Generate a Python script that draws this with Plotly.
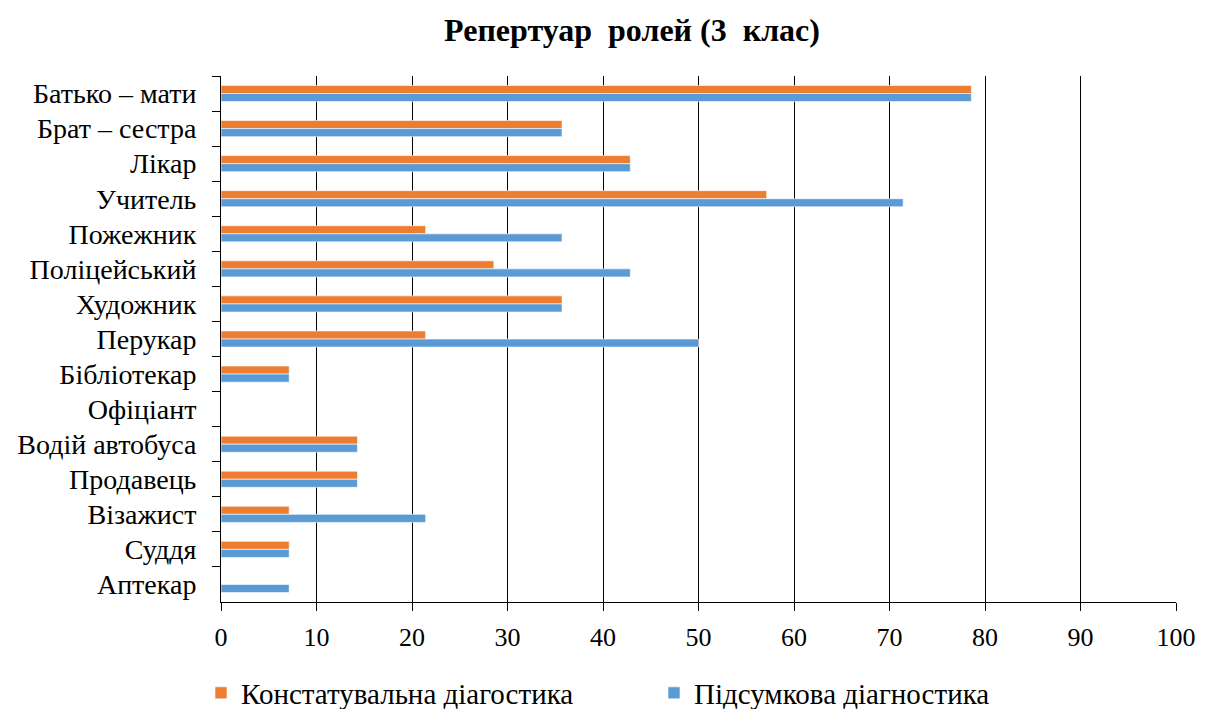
import plotly.graph_objects as go

# Ролі, які обирали учні (у відсотках)
roles = [
    "Батько – мати", "Брат – сестра", "Лікар", "Учитель", "Пожежник",
    "Поліцейський", "Художник", "Перукар", "Бібліотекар", "Офіціант",
    "Водій автобуса", "Продавець", "Візажист", "Суддя", "Аптекар",
]
initial_diag = [78.57, 35.71, 42.86, 57.14, 21.43, 28.57, 35.71, 21.43,
                7.14, 0, 14.29, 14.29, 7.14, 7.14, 0]
final_diag = [78.57, 35.71, 42.86, 71.43, 35.71, 42.86, 35.71, 50.0,
              7.14, 0, 14.29, 14.29, 21.43, 7.14, 7.14]
x_ticks = list(range(0, 101, 10))

FONT = "Liberation Serif"

fig = go.Figure()
fig.add_trace(go.Bar(
    y=roles, x=initial_diag, orientation="h",
    name="Констатувальна діагостика",
    marker=dict(color="#ED7D31", line=dict(color="rgba(255,255,255,0.6)", width=1)),
))
fig.add_trace(go.Bar(
    y=roles, x=final_diag, orientation="h",
    name="Підсумкова діагностика",
    marker=dict(color="#5B9BD5", line=dict(color="rgba(255,255,255,0.6)", width=1)),
))

fig.update_layout(
    width=1214, height=709,
    paper_bgcolor="white", plot_bgcolor="white",
    barmode="group", bargap=0.54, bargroupgap=0,
    margin=dict(l=221, r=38, t=76, b=107, autoexpand=False),
    font=dict(family=FONT, size=26, color="black"),
    title=dict(
        text="<b>Репертуар  ролей (3  клас)</b>",
        x=632 / 1214, xref="container", xanchor="center",
        y=1 - 30 / 709, yref="container", yanchor="middle",
        font=dict(family=FONT, size=32, color="black"),
    ),
    legend=dict(
        orientation="h", x=(201 - 221) / 955, xanchor="left",
        y=-(693 - 602) / 526, yanchor="middle",
        font=dict(family=FONT, size=29, color="black"),
        itemwidth=30, tracegroupgap=0,
        entrywidth=408, entrywidthmode="pixels",
    ),
    showlegend=True,
)

fig.update_xaxes(
    range=[0, 100], tickvals=x_ticks,
    showgrid=True, gridcolor="black", gridwidth=1,
    showline=True, linecolor="black", linewidth=1,
    ticks="outside", ticklen=8, tickcolor="black",
    zeroline=False, fixedrange=True, ticklabelstandoff=4,
    tickfont=dict(family=FONT, size=26),
)
fig.update_yaxes(
    autorange="reversed", type="category",
    showline=True, linecolor="black", linewidth=1,
    ticks="outside", ticklen=8, tickcolor="black", tickson="boundaries",
    showgrid=False, fixedrange=True, ticklabelstandoff=18,
    tickfont=dict(family=FONT, size=28),
)

fig.write_html("out.html")
